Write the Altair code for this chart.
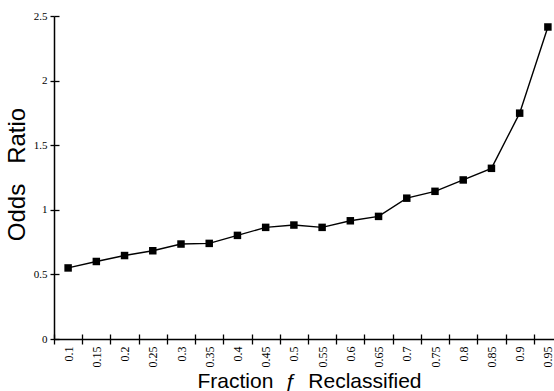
import altair as alt
import pandas as pd

fractions = ["0.1", "0.15", "0.2", "0.25", "0.3", "0.35", "0.4", "0.45", "0.5",
             "0.55", "0.6", "0.65", "0.7", "0.75", "0.8", "0.85", "0.9", "0.95"]
odds_ratio = [0.55, 0.60, 0.646, 0.683, 0.735, 0.74, 0.802, 0.864, 0.882,
              0.864, 0.915, 0.949, 1.09, 1.143, 1.231, 1.321, 1.748, 2.415]
y_ticks = [0, 0.5, 1, 1.5, 2, 2.5]

df = pd.DataFrame({"f": fractions, "odds": odds_ratio})

xscale = alt.Scale(domain=fractions, range=[0, 508], paddingInner=0, paddingOuter=0)
yscale = alt.Scale(domain=[0, 2.5], nice=False, zero=True)

base = alt.Chart(df)
NB = "\u00a0"

line = base.mark_line(color="black", strokeWidth=1.4).encode(
    x=alt.X("f:N", sort=fractions, scale=xscale,
            axis=alt.Axis(title=f"Fraction{NB*2}ƒ{NB*2}Reclassified", orient="bottom",
                          labelAngle=270,
                          tickBand="extent", tickSize=5, tickColor="black",
                          domainColor="black", domainWidth=1.5, tickWidth=1.3,
                          labelFont="Liberation Serif", labelFontSize=12,
                          labelColor="black", labelPadding=2,
                          titleFont="Liberation Sans", titleFontSize=21,
                          titleFontWeight="normal", titleColor="black",
                          titleX=255, titleY=48, titleAlign="center",
                          titleBaseline="alphabetic", grid=False)),
    y=alt.Y("odds:Q", scale=yscale,
            axis=alt.Axis(title=f"Odds{NB*3}Ratio", orient="left", values=y_ticks,
                          format=".2~f",
                          tickSize=4, tickColor="black", tickWidth=1.3,
                          domainColor="black", domainWidth=1.5,
                          labelFont="Liberation Serif", labelFontSize=11,
                          labelColor="black", labelPadding=3,
                          titleFont="Liberation Sans", titleFontSize=24,
                          titleFontWeight="normal", titleColor="black",
                          titleAngle=270, titleX=-37, titleY=158,
                          titleAlign="center", titleBaseline="middle", grid=False)),
)

points = base.mark_square(color="black", size=56, opacity=1).encode(
    x=alt.X("f:N", sort=fractions, scale=xscale,
            axis=alt.Axis(title=None, orient="bottom", labels=False, domain=False,
                          tickBand="extent",
                          tickSize=5, tickColor="black", tickWidth=1.3,
                          offset=-5, grid=False)),
    y=alt.Y("odds:Q", scale=yscale,
            axis=alt.Axis(title=None, orient="left", labels=False, domain=False,
                          values=y_ticks,
                          tickSize=5, tickColor="black", tickWidth=1.3,
                          offset=-5, grid=False)),
)

chart = alt.layer(line, points).resolve_axis(x="independent", y="independent").properties(
    width=500, height=323,
    background="white",
    autosize=alt.AutoSizeParams(type="none"),
    padding={"left": 54, "top": 16, "right": 0, "bottom": 52},
).configure_view(strokeWidth=0)

chart.save("out.html", embed_options={"renderer": "svg", "actions": False})
